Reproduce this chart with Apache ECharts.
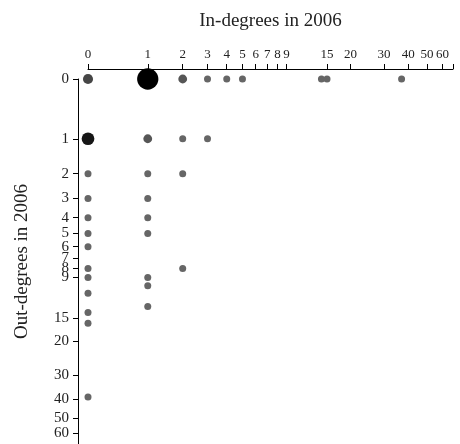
<!DOCTYPE html>
<html>
<head>
<meta charset="UTF-8">
<title>In/Out-degrees in 2006</title>
<style>
  html, body { margin: 0; padding: 0; background: #fff; }
  #main { width: 460px; height: 444px; }
</style>
</head>
<body>
<div id="main"></div>
<script src="https://cdn.jsdelivr.net/npm/echarts@6/dist/echarts.min.js"></script>
<script>
// one entry per dot: in-degree, out-degree, how many nodes share it
var inDegree  = [0, 1, 2, 3, 4, 5, 14, 15, 37, 0, 1, 2, 3, 0, 1, 2, 0, 1, 0, 1, 0, 1, 0, 0, 2, 0, 1, 1, 0, 1, 0, 0, 0];
var outDegree = [0, 0, 0, 0, 0, 0, 0, 0, 0, 1, 1, 1, 1, 2, 2, 2, 3, 3, 4, 4, 5, 5, 6, 8, 8, 9, 9, 10, 11, 13, 14, 16, 39];
var nodeCount = [3, 28, 2, 1, 1, 1, 1, 1, 1, 6, 2, 1, 1, 1, 1, 1, 1, 1, 1, 1, 1, 1, 1, 1, 1, 1, 1, 1, 1, 1, 1, 1, 1];
var tickLabels = [0, 1, 2, 3, 4, 5, 6, 7, 8, 9, 15, 20, 30, 40, 50, 60];
var axisMax = 68;

// log(1 + x) scale
function f(v) { return Math.log2(1 + v); }
function finv(v) { return Math.round(Math.pow(2, v) - 1); }

var data = [];
for (var i = 0; i < inDegree.length; i++) {
  data.push([f(inDegree[i]), f(outDegree[i]), nodeCount[i]]);
}

var tickPos = tickLabels.map(f);
var serif = '"Liberation Serif", "DejaVu Serif", serif';

function makeAxis(name, gap) {
  return {
    type: 'value',
    min: 0,
    max: f(axisMax),
    offset: 10,
    name: name,
    nameLocation: 'middle',
    nameGap: gap,
    nameTextStyle: { fontFamily: serif, fontSize: 19, color: '#222' },
    axisLine: { show: true, onZero: false, lineStyle: { color: '#000', width: 1 } },
    axisTick: {
      show: true, length: 5,
      customValues: tickPos.concat([f(axisMax)]),
      lineStyle: { color: '#000' }
    },
    axisLabel: {
      customValues: tickPos,
      margin: 8,
      fontFamily: serif, fontSize: 13, color: '#222',
      formatter: function(v) { return finv(v); }
    },
    splitLine: { show: false }
  };
}

var xAxis = makeAxis('In-degrees in 2006', 38);
xAxis.position = 'top';
var yAxis = makeAxis('Out-degrees in 2006', 46);
yAxis.inverse = true;
yAxis.axisLabel.margin = 9;
yAxis.axisLabel.fontSize = 15;

var myChart = echarts.init(document.getElementById('main'));
myChart.setOption({
  animation: false,
  grid: { left: 88, top: 79, width: 365, height: 365 },
  xAxis: xAxis,
  yAxis: yAxis,
  series: [{
    type: 'scatter',
    clip: false,
    data: data,
    symbol: 'circle',
    symbolSize: function(d) { return 7 * Math.pow(d[2], 1 / 3); },
    itemStyle: {
      opacity: 1,
      color: function(p) {
        var g = Math.max(0, 102 - 16 * (p.data[2] - 1));
        return 'rgb(' + g + ',' + g + ',' + g + ')';
      }
    }
  }]
});
</script>
</body>
</html>
